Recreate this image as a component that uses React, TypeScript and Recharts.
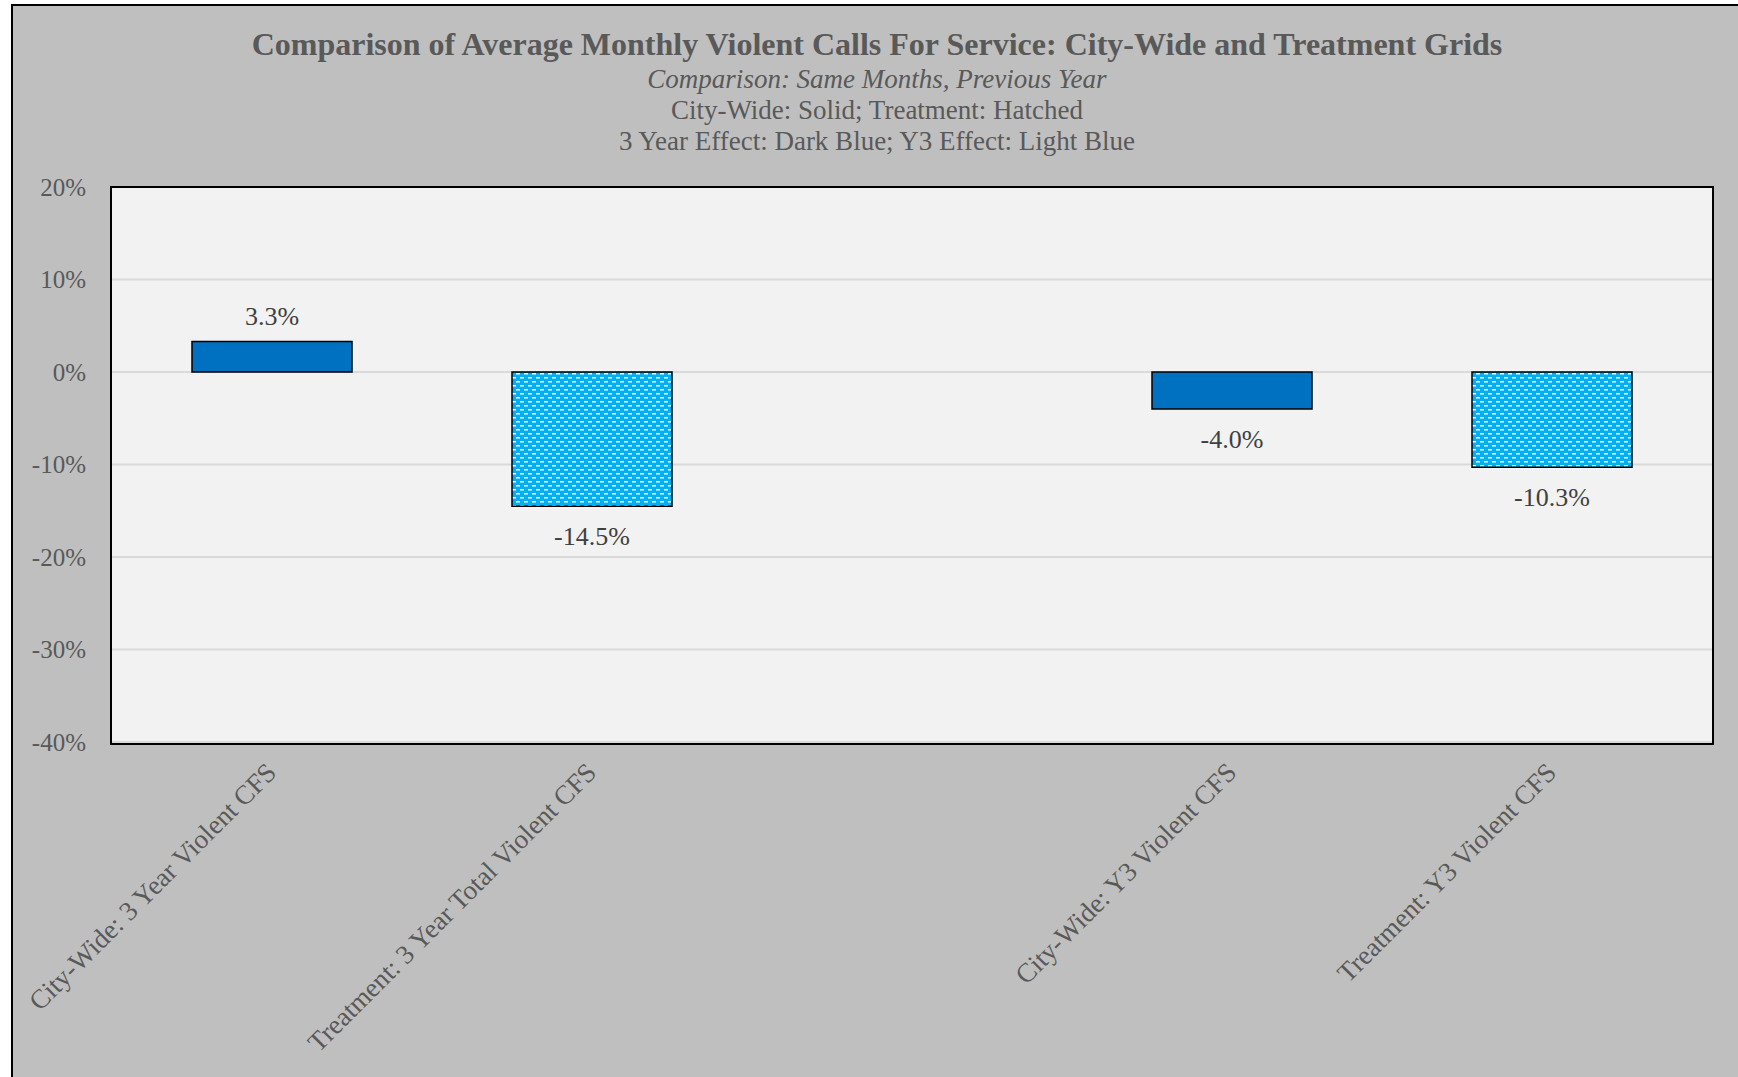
import React from "react"
import { BarChart, Bar, XAxis, YAxis, CartesianGrid, Cell, LabelList } from "recharts"

// values, in percent
const categories = [
  "City-Wide: 3 Year Violent CFS",
  "Treatment: 3 Year Total Violent CFS",
  "",
  "City-Wide: Y3 Violent CFS",
  "Treatment: Y3 Violent CFS",
]
const changes: (number | null)[] = [3.3, -14.5, null, -4.0, -10.3]
const groups = ["city", "treatment", "none", "city", "treatment"]
const yTicks = [-40, -30, -20, -10, 0, 10, 20]

const FONT = '"Liberation Serif", "Times New Roman", serif'
const GRAY = "#595959"

const data = categories.map((name, i) => ({ name, value: changes[i], group: groups[i] }))

function CategoryTick(props: any) {
  const { x, y, payload } = props
  if (!payload.value) return null
  return (
    <g transform={`translate(${x + 6},${y + 24})`}>
      <text
        transform="rotate(-45)"
        textAnchor="end"
        fill={GRAY}
        fontFamily={FONT}
        fontSize={27}
      >
        {payload.value}
      </text>
    </g>
  )
}

function ValueLabel(props: any) {
  const { x, y, width, height, value } = props
  if (value == null) return null
  const top = Math.min(y, y + height)
  const bottom = Math.max(y, y + height)
  const cy = value >= 0 ? top - 25 : bottom + 30
  return (
    <text
      x={x + width / 2}
      y={cy}
      textAnchor="middle"
      dominantBaseline="central"
      fill="#404040"
      fontFamily={FONT}
      fontSize={26}
    >
      {`${value.toFixed(1)}%`}
    </text>
  )
}

export default function App() {
  return (
    <div style={{ position: "absolute", left: 0, top: 0, width: 1738, height: 1077, overflow: "hidden", background: "#fff" }}>
      <svg width={0} height={0} style={{ position: "absolute" }}>
        <defs>
          <pattern id="hatch" width={8} height={8} patternUnits="userSpaceOnUse">
            <rect width={8} height={8} fill="#00B0F0" />
            <rect x={0} y={1} width={4} height={1.5} fill="#fff" />
            <rect x={4} y={5} width={4} height={1.5} fill="#fff" />
          </pattern>
        </defs>
      </svg>
      <div
        style={{
          position: "absolute",
          left: 11,
          top: 4,
          width: 1760,
          height: 1100,
          background: "#BFBFBF",
          border: "2px solid #000",
        }}
      />
      <div style={{ position: "absolute", left: 0, width: 1754, top: 0, textAlign: "center", fontFamily: FONT, color: GRAY }}>
        <div style={{ position: "absolute", left: 0, right: 0, top: 26, fontSize: 32, fontWeight: "bold", lineHeight: "36px" }}>
          Comparison of Average Monthly Violent Calls For Service: City-Wide and Treatment Grids
        </div>
        <div style={{ position: "absolute", left: 0, right: 0, top: 63, fontSize: 27, fontStyle: "italic", lineHeight: "32px" }}>
          Comparison: Same Months, Previous Year
        </div>
        <div style={{ position: "absolute", left: 0, right: 0, top: 94, fontSize: 27, lineHeight: "32px" }}>
          City-Wide: Solid; Treatment: Hatched
        </div>
        <div style={{ position: "absolute", left: 0, right: 0, top: 125, fontSize: 27, lineHeight: "32px" }}>
          3 Year Effect: Dark Blue; Y3 Effect: Light Blue
        </div>
      </div>
      <div style={{ position: "absolute", left: 0, top: 0 }}>
        <BarChart
          width={1738}
          height={1077}
          data={data}
          margin={{ top: 187, right: 26, bottom: 0, left: 0 }}
          barCategoryGap="25%"
        >
          <CartesianGrid vertical={false} stroke="#D9D9D9" strokeWidth={2} fill="#F2F2F2" />
          <XAxis
            dataKey="name"
            interval={0}
            height={335}
            tickLine={false}
            axisLine={false}
            tick={<CategoryTick />}
          />
          <YAxis
            width={112}
            domain={[-40, 20]}
            ticks={yTicks}
            tickSize={0}
            tickMargin={26}
            axisLine={false}
            tickLine={false}
            tickFormatter={(v: number) => `${v}%`}
            tick={{ fill: GRAY, fontFamily: FONT, fontSize: 25 }}
          />
          <Bar dataKey="value" isAnimationActive={false} stroke="#000" strokeWidth={1.5}>
            {data.map((d, i) => (
              <Cell key={i} fill={d.group === "treatment" ? "url(#hatch)" : "#0070C0"} />
            ))}
            <LabelList dataKey="value" content={<ValueLabel />} />
          </Bar>
        </BarChart>
      </div>
      <div
        style={{
          position: "absolute",
          left: 110,
          top: 186,
          width: 1600,
          height: 555,
          border: "2px solid #000",
          pointerEvents: "none",
        }}
      />
    </div>
  )
}
